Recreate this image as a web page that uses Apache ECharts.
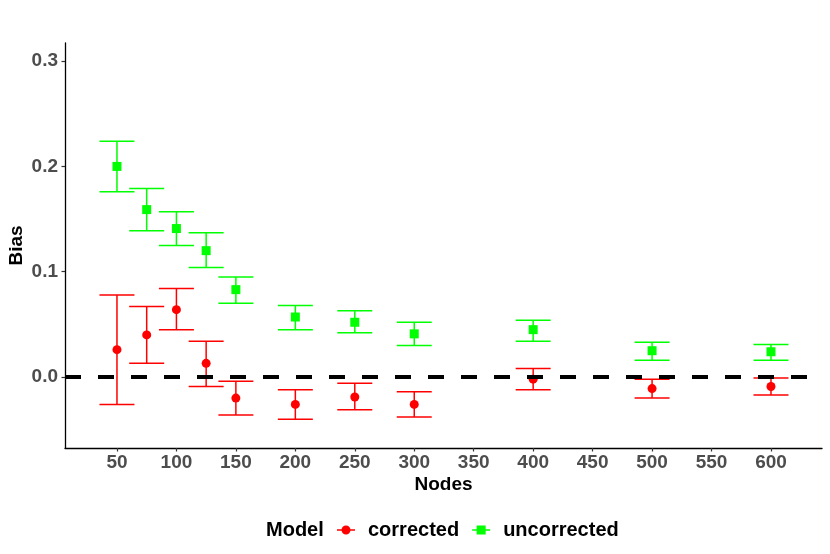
<!DOCTYPE html>
<html>
<head>
<meta charset="utf-8">
<script src="https://cdn.jsdelivr.net/npm/echarts@6/dist/echarts.min.js"></script>
<style>html,body{margin:0;padding:0;background:#fff;}#c{width:830px;height:554px;}</style>
</head>
<body>
<div id="c"></div>
<script>
const nodes = [50, 75, 100, 125, 150, 200, 250, 300, 400, 500, 600];
const correctedBias  = [0.026, 0.040, 0.064, 0.013, -0.020, -0.026, -0.019, -0.026, -0.002, -0.011, -0.009];
const correctedLower = [-0.026, 0.013, 0.045, -0.009, -0.036, -0.040, -0.031, -0.038, -0.012, -0.020, -0.017];
const correctedUpper = [0.078, 0.067, 0.084, 0.034, -0.004, -0.012, -0.006, -0.014, 0.008, -0.002, -0.001];
const uncorrectedBias  = [0.200, 0.159, 0.141, 0.120, 0.083, 0.057, 0.052, 0.041, 0.045, 0.025, 0.024];
const uncorrectedLower = [0.176, 0.139, 0.125, 0.104, 0.070, 0.045, 0.042, 0.030, 0.034, 0.016, 0.016];
const uncorrectedUpper = [0.224, 0.179, 0.157, 0.137, 0.095, 0.068, 0.063, 0.052, 0.054, 0.033, 0.031];
const xTicks = [50, 100, 150, 200, 250, 300, 350, 400, 450, 500, 550, 600];
const yTicks = [0, 0.1, 0.2, 0.3];

const RED = '#FF0000', GREEN = '#00FF00';
const FONT = 'Liberation Sans';
const CAP = 17.5;

function errData(lo, hi) { return nodes.map((n, i) => [n, lo[i], hi[i]]); }
function ptData(v) { return nodes.map((n, i) => [n, v[i]]); }
function renderErr(color) {
  return function (params, api) {
    const x = api.value(0);
    const a = api.coord([x, api.value(1)]);
    const b = api.coord([x, api.value(2)]);
    const st = { stroke: color, lineWidth: 1.5 };
    return { type: 'group', children: [
      { type: 'line', shape: { x1: a[0], y1: a[1], x2: b[0], y2: b[1] }, style: st },
      { type: 'line', shape: { x1: a[0] - CAP, y1: a[1], x2: a[0] + CAP, y2: a[1] }, style: st },
      { type: 'line', shape: { x1: b[0] - CAP, y1: b[1], x2: b[0] + CAP, y2: b[1] }, style: st }
    ]};
  };
}
const circleIcon = 'path://M0,8.25 H18 V9.75 H0 Z M9,4.5 A4.5,4.5 0 1 1 8.99,4.5 Z';
const squareIcon = 'path://M0,8.25 H18 V9.75 H0 Z M4.5,4.5 H13.5 V13.5 H4.5 Z';

const chart = echarts.init(document.getElementById('c'));
chart.setOption({
  animation: false,
  backgroundColor: '#fff',
  grid: { left: 65, right: 8, top: 43, bottom: 106, containLabel: false, outerBoundsMode: 'none' },
  xAxis: {
    type: 'value', min: 6.3, max: 642.9,
    name: 'Nodes', nameLocation: 'middle', nameGap: 27.5, nameMoveOverlap: false,
    nameTextStyle: { fontFamily: FONT, fontWeight: 'bold', fontSize: 19, color: '#000' },
    axisLine: { show: true, onZero: false, lineStyle: { color: '#000', width: 1.3 } },
    axisTick: { show: true, length: 3.5, customValues: xTicks, lineStyle: { color: '#333', width: 1.2 } },
    axisLabel: { customValues: xTicks, margin: 5, fontFamily: FONT, fontWeight: 'bold', fontSize: 19, color: '#4D4D4D' },
    splitLine: { show: false }
  },
  yAxis: {
    type: 'value', min: -0.0674, max: 0.3172,
    name: 'Bias', nameLocation: 'middle', nameGap: 38.5, nameRotate: 90, nameMoveOverlap: false,
    nameTextStyle: { fontFamily: FONT, fontWeight: 'bold', fontSize: 19, color: '#000' },
    axisLine: { show: true, onZero: false, lineStyle: { color: '#000', width: 1.3 } },
    axisTick: { show: true, length: 3.5, customValues: yTicks, lineStyle: { color: '#333', width: 1.2 } },
    axisLabel: { customValues: yTicks, margin: 7, fontFamily: FONT, fontWeight: 'bold', fontSize: 19, color: '#4D4D4D',
      formatter: v => v.toFixed(1) },
    splitLine: { show: false }
  },
  legend: {
    left: 337, top: 520, orient: 'horizontal', padding: 0,
    itemWidth: 18, itemHeight: 9, itemGap: 13,
    textStyle: { fontFamily: FONT, fontWeight: 'bold', fontSize: 20, color: '#000', padding: [0, 0, 0, 8] },
    data: [{ name: 'corrected', icon: circleIcon }, { name: 'uncorrected', icon: squareIcon }]
  },
  graphic: [{
    type: 'text', left: 266, top: 520,
    style: { text: 'Model', font: 'bold 20px "Liberation Sans"', fill: '#000' }
  }],
  series: [
    { name: 'corrected', type: 'custom', renderItem: renderErr(RED), data: errData(correctedLower, correctedUpper),
      itemStyle: { color: RED }, encode: { x: 0, y: [1, 2] }, z: 2 },
    { name: 'uncorrected', type: 'custom', renderItem: renderErr(GREEN), data: errData(uncorrectedLower, uncorrectedUpper),
      itemStyle: { color: GREEN }, encode: { x: 0, y: [1, 2] }, z: 2 },
    { name: 'corrected', type: 'scatter', symbol: 'circle', symbolSize: 9, data: ptData(correctedBias),
      itemStyle: { color: RED, opacity: 1 }, z: 3 },
    { name: 'uncorrected', type: 'scatter', symbol: 'rect', symbolSize: 9, data: ptData(uncorrectedBias),
      itemStyle: { color: GREEN, opacity: 1 }, z: 3 },
    { name: 'ref', type: 'line', data: [], z: 10, silent: true,
      markLine: { silent: true, symbol: ['none', 'none'], label: { show: false },
        lineStyle: { color: '#000', width: 4, type: [16, 17], cap: 'butt' },
        emphasis: { disabled: true },
        data: [{ yAxis: 0 }] } }
  ]
});
</script>
</body>
</html>
